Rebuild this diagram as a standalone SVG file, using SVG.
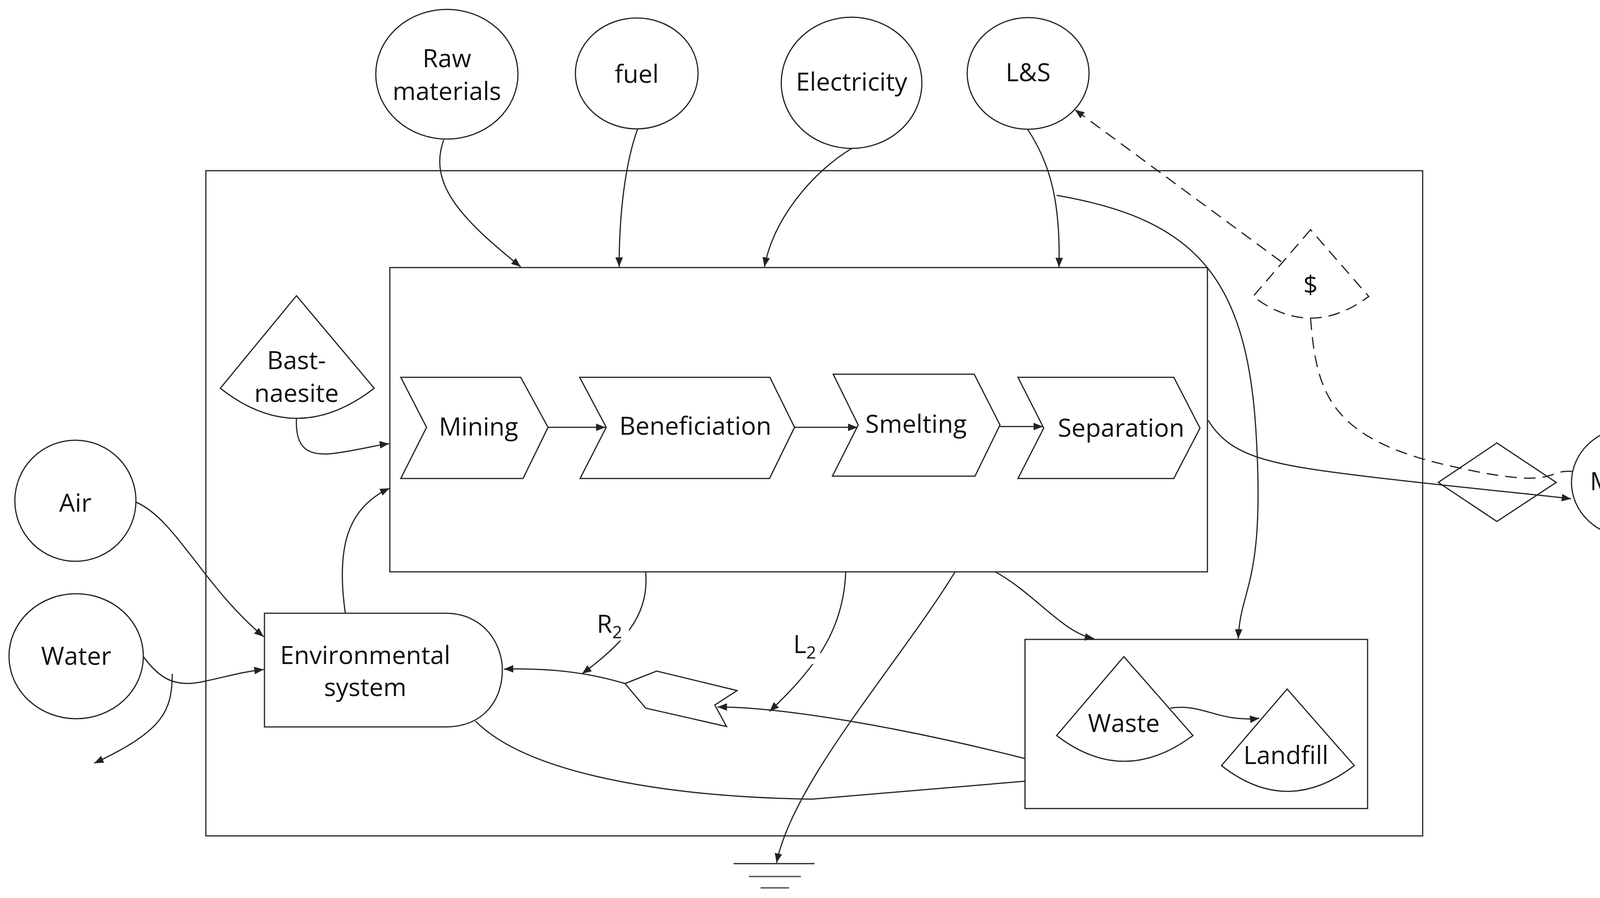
<svg xmlns="http://www.w3.org/2000/svg" width="4346" height="2299" viewBox="0 0 4346 2299">
<style>
.s{fill:#fff;stroke:#222;stroke-width:3}
.c{fill:none;stroke:#222;stroke-width:3}
.d{fill:none;stroke:#222;stroke-width:3;stroke-dasharray:30 18}
.t{font-family:"Open Sans","Noto Sans",sans-serif;font-size:64px;fill:#111;text-anchor:middle}
</style>
<defs>
<marker id="ab" viewBox="0 0 10 10" refX="10" refY="5" markerWidth="24" markerHeight="24" markerUnits="userSpaceOnUse" orient="auto"><path d="M0,1 L10,5 L0,9 z" fill="#222"/></marker>
</defs>
<rect id="outer" class="s" x="527" y="437" width="3115" height="1703"/>
<rect id="inner" class="s" x="998" y="685" width="2093" height="779"/>
<g id="raw"><ellipse class="s" cx="1144" cy="190" rx="182" ry="166"/><text class="t" x="1144" y="172">Raw</text><text class="t" x="1144" y="256">materials</text></g>
<g id="fuel"><ellipse class="s" cx="1630" cy="188" rx="157" ry="142"/><text class="t" x="1630" y="212">fuel</text></g>
<g id="elec"><ellipse class="s" cx="2180" cy="212" rx="180" ry="168"/><text class="t" x="2180" y="232">Electricity</text></g>
<g id="ls"><ellipse class="s" cx="2632" cy="188" rx="156" ry="143"/><text class="t" x="2632" y="208">L&amp;S</text></g>
<g id="air"><ellipse class="s" cx="193" cy="1282" rx="155" ry="155"/><text class="t" x="193" y="1310">Air</text></g>
<g id="water"><ellipse class="s" cx="195" cy="1680" rx="172" ry="160"/><text class="t" x="195" y="1702">Water</text></g>
<g id="market"><ellipse class="s" cx="4176" cy="1235" rx="153" ry="141"/><text class="t" x="4176" y="1255" font-size="60">Market</text></g>
<g id="bast"><path class="s" d="M759,757 L564,994 Q759,1148 958,994 Z"/><text class="t" x="759" y="945">Bast-</text><text class="t" x="759" y="1029">naesite</text></g>
<g id="mining"><path class="s" d="M1026,966 H1333 L1403,1094 L1339,1225 H1026 L1092,1094 Z"/><text class="t" x="1225" y="1115">Mining</text></g>
<g id="benef"><path class="s" d="M1484,966 H1971 L2034,1094 L1970,1225 H1485 L1552,1094 Z"/><text class="t" x="1780" y="1113">Beneficiation</text></g>
<g id="smelt"><path class="s" d="M2133,958 H2494 L2560,1088 L2496,1219 H2131 L2197,1088 Z"/><text class="t" x="2345" y="1108">Smelting</text></g>
<g id="sep"><path class="s" d="M2606,966 H3005 L3072,1096 L3005,1225 H2606 L2672,1096 Z"/><text class="t" x="2870" y="1118">Separation</text></g>
<g id="env"><path class="s" d="M677,1570 H1140 C1240,1570 1286,1650 1286,1715 C1286,1790 1240,1861 1140,1861 H677 Z"/><text class="t" x="935" y="1700">Environmental</text><text class="t" x="935" y="1782">system</text></g>
<g id="wastebox"><rect class="s" x="2624" y="1637" width="877" height="433"/></g>
<g id="waste"><path class="s" d="M2877,1681 L2705,1883 Q2877,2015 3054,1883 Z"/><text class="t" x="2877" y="1874">Waste</text></g>
<g id="landfill"><path class="s" d="M3295,1764 L3127,1960 Q3295,2092 3467,1960 Z"/><text class="t" x="3292" y="1956">Landfill</text></g>
<g id="dollar"><path class="d" d="M3355,588 L3208,759 Q3355,870 3504,759 Z" fill="#fff"/><text class="t" x="3355" y="752">$</text></g>
<g id="diamond"><path class="s" d="M3832,1134 L3984,1235 L3832,1335 L3682,1235 Z" fill="none"/></g>
<g id="recycle"><path class="s" d="M1600,1750 L1681,1718 L1887,1768 L1830,1805 L1860,1860 L1653,1813 Z"/></g>
<g id="ground"><line class="c" x1="1878" y1="2211" x2="2085" y2="2211"/><line x1="1917" y1="2244" x2="2050" y2="2244" stroke="#666" stroke-width="4"/><line x1="1947" y1="2273" x2="2020" y2="2273" stroke="#666" stroke-width="4"/></g>
<g id="connectors">
<path class="c" marker-end="url(#ab)" d="M1136,358 C1095,470 1180,560 1333,683"/>
<path class="c" marker-end="url(#ab)" d="M1632,331 C1600,420 1585,550 1585,683"/>
<path class="c" marker-end="url(#ab)" d="M2182,379 C2080,440 1980,560 1957,683"/>
<path class="c" marker-end="url(#ab)" d="M2630,330 C2690,420 2715,520 2711,684"/>
<path class="c" marker-end="url(#ab)" d="M2705,500 C3050,560 3190,700 3215,1100 S3175,1500 3170,1635"/>
<path class="d" marker-end="url(#ab)" d="M3280,670 L2752,281"/>
<path class="d" d="M3355,815 C3370,1000 3400,1120 3700,1190 S3950,1200 4026,1207"/>
<path class="c" marker-end="url(#ab)" d="M3093,1076 C3150,1170 3250,1190 3500,1220 S3900,1262 4022,1277"/>
<path class="c" marker-end="url(#ab)" d="M759,1071 C755,1150 790,1170 860,1160 S960,1140 996,1136"/>
<path class="c" marker-end="url(#ab)" d="M884,1570 C860,1400 890,1300 997,1250"/>
<path class="c" marker-end="url(#ab)" d="M349,1286 C450,1330 520,1500 675,1630"/>
<path class="c" marker-end="url(#ab)" d="M367,1681 C410,1740 450,1760 520,1745 S620,1720 675,1714"/>
<path class="c" marker-end="url(#ab)" d="M441,1725 C440,1820 420,1870 241,1954"/>
<path class="c" marker-end="url(#ab)" d="M1403,1094 H1550"/>
<path class="c" marker-end="url(#ab)" d="M2034,1094 H2195"/>
<path class="c" marker-end="url(#ab)" d="M2560,1092 H2670"/>
<path class="c" marker-end="url(#ab)" d="M1653,1464 C1660,1560 1620,1630 1490,1725"/>
<path class="c" marker-end="url(#ab)" d="M2165,1464 C2160,1600 2100,1700 1970,1821"/>
<path class="c" marker-end="url(#ab)" d="M2445,1464 C2300,1700 2030,2000 1988,2209"/>
<path class="c" marker-end="url(#ab)" d="M2548,1464 C2650,1520 2720,1620 2801,1635"/>
<path class="c" marker-end="url(#ab)" d="M2624,1942 C2300,1860 2000,1810 1837,1810"/>
<path class="c" marker-end="url(#ab)" d="M1600,1750 C1500,1720 1400,1710 1290,1713"/>
<path class="c" d="M1217,1846 C1350,1980 1700,2040 2078,2046 L2624,2000"/>
<path class="c" marker-end="url(#ab)" d="M2996,1813 C3080,1800 3120,1850 3224,1839"/>
</g>
<rect x="1530" y="1560" width="80" height="80" fill="#fff"/>
<text class="t" x="1560" y="1620">R<tspan font-size="44" dy="14">2</tspan></text>
<rect x="2030" y="1620" width="70" height="80" fill="#fff"/>
<text class="t" x="2060" y="1672">L<tspan font-size="44" dy="14">2</tspan></text>
</svg>
